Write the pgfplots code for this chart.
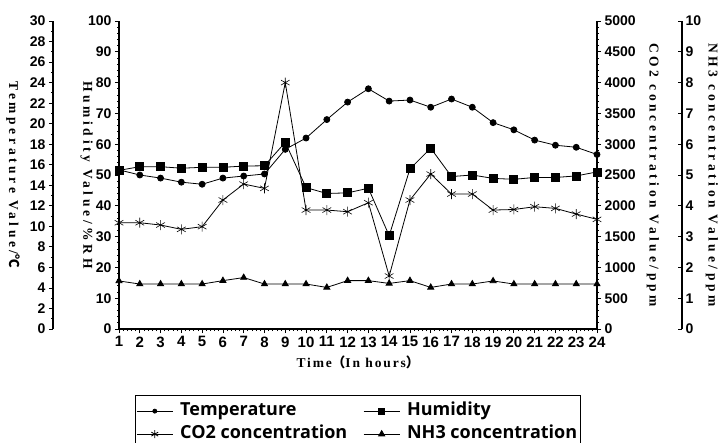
\documentclass[border=0pt]{standalone}
\usepackage{fontspec}
\setmainfont{Liberation Sans}
\newfontfamily\lserif[LetterSpace=27]{Liberation Serif}
\newfontfamily\xserif[LetterSpace=14]{Liberation Serif}
\newfontfamily\osans{Open Sans}
\newfontfamily\cjk{Noto Sans CJK SC}
\usepackage{pgfplots}
\pgfplotsset{compat=1.18}

\pgfplotsset{
  base/.style={
    scale only axis, height=308pt, ymin=0,
    anchor=south west,
    tick label style={font=\bfseries\fontsize{14}{14}\selectfont},
    /pgf/number format/assume math mode=true,
    /pgf/number format/1000 sep={},
    axis line style={line width=1.6pt},
    major tick length=4pt, minor tick length=2pt,
    tick style={black, line width=0.8pt},
    every axis plot/.append style={black, line width=0.8pt},
    clip=false,
  },
  ylab/.style={every axis y label/.style={at={(axis description cs:#1,0.5)},rotate=-90,anchor=center,
    font=\lserif\bfseries\fontsize{13.5}{13.5}\selectfont}},
}

\begin{document}
\begin{tikzpicture}
% humidity (main axis)
\begin{axis}[base, at={(0pt,0pt)}, width=478pt,
  xmin=1, xmax=24, ymax=100,
  axis x line*=bottom, axis y line*=left,
  xtick={1,...,24}, minor x tick num=4,
  ytick={0,10,...,100}, minor y tick num=4,
  x tick label style={font=\bfseries\fontsize{15}{15}\selectfont},
  tick align=outside,
  xlabel={\xserif\bfseries Time{\cjk （}In hours{\cjk ）}},
  xlabel style={font=\fontsize{13.5}{13.5}\selectfont, at={(axis description cs:0.5,-0.107)}, anchor=center},
  ylab=-0.068, ylabel={Humidity Value/\%RH}]
\addplot[mark=square*, mark size=4pt] coordinates {
(1,51.5) (2,52.7) (3,52.7) (4,52.2) (5,52.5) (6,52.5) (7,52.9) (8,53.0)
(9,60.6) (10,45.9) (11,44.0) (12,44.2) (13,45.7) (14,30.3) (15,52.0) (16,58.7)
(17,49.5) (18,50.0) (19,48.9) (20,48.6) (21,49.2) (22,49.2) (23,49.7) (24,51.0)};
\end{axis}
% temperature
\begin{axis}[base, at={(-66pt,0pt)}, width=544pt,
  xmin=-2.1757, xmax=24, ymax=30,
  hide x axis, axis y line*=left,
  ytick={0,2,...,30}, minor y tick num=1,
  tick align=outside,
  ylab=-0.0735, ylabel={Temperature Value/{\cjk ℃}}]
\addplot[mark=*, mark size=3pt] coordinates {
(1,15.5) (2,15.0) (3,14.7) (4,14.3) (5,14.1) (6,14.7) (7,14.9) (8,15.1)
(9,17.5) (10,18.6) (11,20.4) (12,22.1) (13,23.4) (14,22.2) (15,22.3) (16,21.6)
(17,22.4) (18,21.6) (19,20.1) (20,19.4) (21,18.4) (22,17.9) (23,17.7) (24,17.0)};
\end{axis}
% CO2
\begin{axis}[base, at={(0pt,0pt)}, width=478pt,
  xmin=1, xmax=24, ymax=5000,
  hide x axis, axis y line*=right,
  ytick={0,500,...,5000}, minor y tick num=4,
  tick align=outside,
  ylab=1.117, ylabel={CO2 concentration Value/ppm}]
\addplot[mark=asterisk, mark size=5pt, mark options={line width=0.6pt}] coordinates {
(1,1725) (2,1725) (3,1688) (4,1618) (5,1661) (6,2094) (7,2353) (8,2283)
(9,4000) (10,1931) (11,1931) (12,1904) (13,2050) (14,860) (15,2094) (16,2516)
(17,2191) (18,2191) (19,1931) (20,1940) (21,1985) (22,1958) (23,1866) (24,1780)};
\end{axis}
% NH3
\begin{axis}[base, at={(0pt,0pt)}, width=563pt,
  xmin=1, xmax=28.090, ymax=10,
  hide x axis, axis y line*=right,
  ytick={0,1,...,10},
  tick align=inside,
  ylab=1.053, ylabel={NH3 concentration Value/ppm},
  legend columns=2, legend cell align=left,
  legend style={at={(axis description cs:0.0284,-0.2150)}, anchor=north west,
    draw=black, line width=0.8pt, inner xsep=1pt, inner ysep=5pt, row sep=2pt,
    font=\osans\bfseries\fontsize{18}{18}\selectfont,
    nodes={inner sep=2pt, text height=13pt, text depth=4pt},
    /tikz/every odd column/.append style={column sep=5pt},
    /tikz/every even column/.append style={column sep=14pt}},
  legend image code/.code={\draw[mark repeat=2,mark phase=2,#1] plot coordinates {(0pt,0pt) (18pt,0pt) (36pt,0pt)};}]
\addlegendimage{black, line width=0.8pt, mark=*, mark size=2pt}
\addlegendentry{Temperature}
\addlegendimage{black, line width=0.8pt, mark=square*, mark size=3pt}
\addlegendentry{Humidity}
\addlegendimage{black, line width=0.8pt, mark=asterisk, mark size=4pt}
\addlegendentry{CO2 concentration}
\addplot[mark=triangle*, mark size=3.5pt] coordinates {
(1,1.56) (2,1.46) (3,1.46) (4,1.46) (5,1.46) (6,1.57) (7,1.67) (8,1.46)
(9,1.46) (10,1.46) (11,1.35) (12,1.57) (13,1.57) (14,1.48) (15,1.57) (16,1.35)
(17,1.46) (18,1.46) (19,1.56) (20,1.46) (21,1.46) (22,1.46) (23,1.46) (24,1.46)};
\addlegendentry{NH3 concentration}
\end{axis}
\pgfresetboundingbox
\path[use as bounding box] (-119pt,-113pt) rectangle (600pt,329pt);
\end{tikzpicture}
\end{document}
